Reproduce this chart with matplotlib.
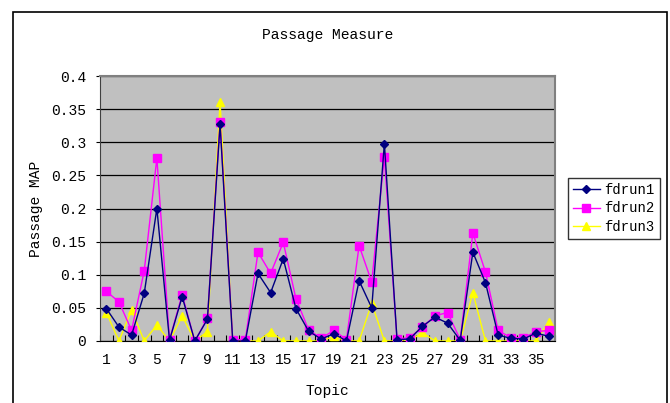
import matplotlib.pyplot as plt
from matplotlib.patches import Rectangle

# Daten
topics = list(range(1, 37))
fdrun1 = [0.049, 0.021, 0.009, 0.072, 0.200, 0.001, 0.067, 0.000, 0.033, 0.327,
          0.000, 0.000, 0.102, 0.073, 0.124, 0.049, 0.015, 0.003, 0.011, 0.000,
          0.091, 0.050, 0.298, 0.002, 0.003, 0.022, 0.036, 0.027, 0.001, 0.134,
          0.088, 0.009, 0.004, 0.003, 0.012, 0.007]
fdrun2 = [0.075, 0.059, 0.016, 0.106, 0.276, 0.002, 0.070, 0.000, 0.034, 0.331,
          0.002, 0.002, 0.134, 0.102, 0.149, 0.064, 0.017, 0.004, 0.016, 0.002,
          0.144, 0.089, 0.278, 0.003, 0.005, 0.021, 0.038, 0.043, 0.002, 0.163,
          0.104, 0.016, 0.005, 0.005, 0.014, 0.016]
fdrun3 = [0.043, 0.000, 0.047, 0.000, 0.024, 0.000, 0.038, 0.000, 0.014, 0.361,
          0.000, 0.000, 0.000, 0.014, 0.000, 0.000, 0.000, 0.000, 0.007, 0.000,
          0.000, 0.057, 0.000, 0.000, 0.000, 0.013, 0.000, 0.000, 0.000, 0.073,
          0.000, 0.000, 0.000, 0.000, 0.000, 0.029]
yticks = [0, 0.05, 0.1, 0.15, 0.2, 0.25, 0.3, 0.35, 0.4]
ytick_labels = ["0", "0.05", "0.1", "0.15", "0.2", "0.25", "0.3", "0.35", "0.4"]

plt.rcParams['font.family'] = ['Liberation Mono', 'DejaVu Sans']

fig = plt.figure(figsize=(6.7, 4.03), dpi=100)
# aeusserer Rahmen
fig.patches.append(Rectangle((13 / 670, -0.02), 654 / 670, 1 - 12 / 403 + 0.02,
                             transform=fig.transFigure, fill=False, ec='black', lw=1.2))

ax = fig.add_axes([100 / 670, 1 - 341 / 403, 455 / 670, 265 / 403])
ax.set_facecolor('#C0C0C0')

ax.plot(topics, fdrun1, color='#000080', lw=1, marker='D', ms=4.5, label='fdrun1', zorder=5)
ax.plot(topics, fdrun2, color='#FF00FF', lw=1, marker='s', ms=5.5, label='fdrun2', zorder=4)
ax.plot(topics, fdrun3, color='#FFFF00', lw=1, marker='^', ms=6, label='fdrun3', zorder=3)

ax.set_xlim(0.5, 36.5)
ax.set_ylim(0, 0.4)
ax.set_yticks(yticks)
ax.set_yticklabels(ytick_labels)
ax.set_xticks(topics[::2])
ax.set_xticks([i + 0.5 for i in range(0, 37)], minor=True)
ax.tick_params(axis='x', which='major', length=0, pad=9, labelsize=10.5)
ax.tick_params(axis='x', which='minor', direction='in', length=4, width=0.8)
ax.tick_params(axis='y', length=3, pad=7, labelsize=10.5)
ax.grid(axis='y', color='black', lw=0.9)
ax.set_axisbelow(True)
for s in ['top', 'right']:
    ax.spines[s].set_color('#808080')
    ax.spines[s].set_linewidth(1.5)
ax.spines['left'].set_color('#404040')
ax.spines['bottom'].set_color('black')

ax.set_title('Passage Measure', fontsize=10.5, pad=27)
ax.set_xlabel('Topic', fontsize=10.5, labelpad=12)
ax.set_ylabel('Passage MAP', fontsize=10.5, labelpad=6)

leg = ax.legend(loc='center left', bbox_to_anchor=(1.028, 0.5), frameon=True, fancybox=False,
                edgecolor='black', fontsize=10, handlelength=2.0, borderpad=0.35,
                labelspacing=0.3, handletextpad=0.3, borderaxespad=0)
leg.get_frame().set_linewidth(1)

fig.savefig('out.png', dpi=100)
